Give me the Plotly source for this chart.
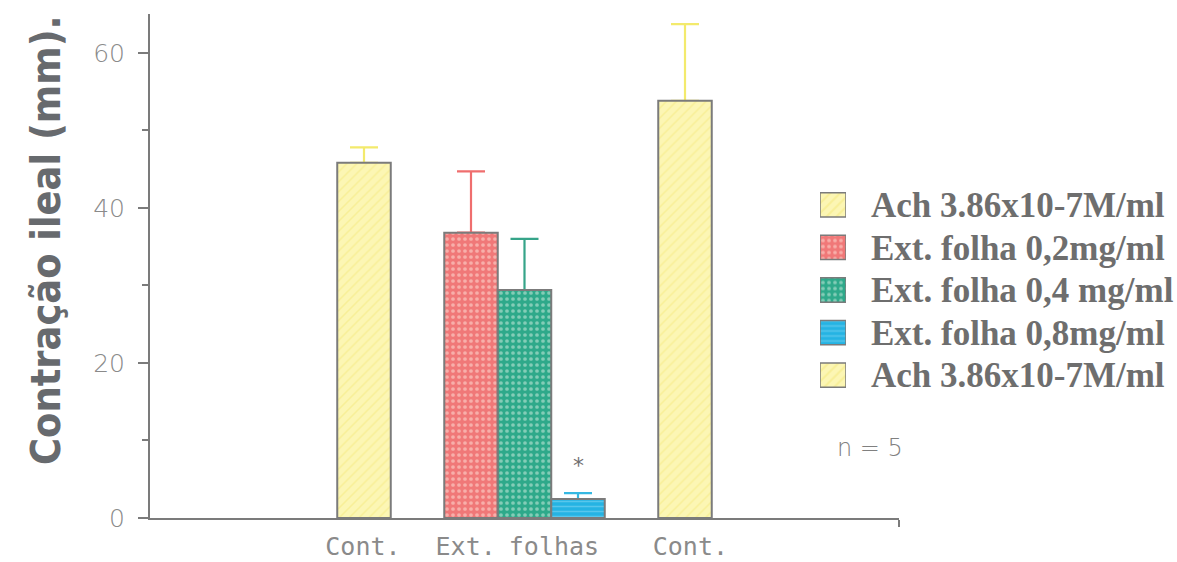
import plotly.graph_objects as go

# ---- data -------------------------------------------------------------
series_names = [
    "Ach 3.86x10-7M/ml",
    "Ext. folha 0,2mg/ml",
    "Ext. folha 0,4 mg/ml",
    "Ext. folha 0,8mg/ml",
    "Ach 3.86x10-7M/ml",
]
bar_pos = [4, 6, 7, 8, 10]
means = [45.8, 36.8, 29.4, 2.45, 53.8]
sem = [2.0, 7.9, 6.6, 0.75, 9.9]

group_tick_pos = [3.98, 5.9, 7.55, 10.1]
group_tick_text = ["Cont.", "Ext.", "folhas", "Cont."]

y_ticks = [0, 20, 40, 60]
y_title = "Contração ileal (mm)."
significant = [False, False, False, True, False]
n_text = "n = 5"

# ---- geometry of the plotting area (pixels) ----------------------------
W, H = 1177, 562
L, R, T, B = 150, 278, 14, 44
plot_w = W - L - R
plot_h = H - T - B


def px_x(px):
    return (px - L) / plot_w


def px_y(py):
    return (H - B - py) / plot_h


# ---- styles -----------------------------------------------------------
fills = [
    dict(shape="/", bgcolor="#fcf6b4", fgcolor="#f3e77a", size=7, solidity=0.22),
    dict(shape=".", bgcolor="#f07878", fgcolor="#fde6dc", size=6, solidity=0.3),
    dict(shape=".", bgcolor="#2ea98a", fgcolor="#d9f0e3", size=6, solidity=0.3),
    dict(shape="-", bgcolor="#25b3e3", fgcolor="#8cdaf3", size=5, solidity=0.3),
    dict(shape="/", bgcolor="#fcf6b4", fgcolor="#f3e77a", size=7, solidity=0.22),
]
err_colors = ["#f3ea6c", "#ef6e6e", "#36a489", "#36b8e2", "#f3ea6c"]
edge = "#7b7b7b"
gray_text = "#8a8a8a"

fig = go.Figure()

# error bars sit underneath their bars so only the upper whisker shows
for i in range(len(means)):
    fig.add_trace(go.Bar(
        x=[bar_pos[i]], y=[means[i]], width=1,
        marker=dict(color="rgba(0,0,0,0)", line=dict(width=0)),
        error_y=dict(type="data", array=[sem[i]], arrayminus=[0], symmetric=False,
                     color=err_colors[i], thickness=2.2, width=14),
        showlegend=False, hoverinfo="skip",
    ))

for i in range(len(means)):
    fig.add_trace(go.Bar(
        x=[bar_pos[i]], y=[means[i]], width=1, name=series_names[i],
        marker=dict(pattern=fills[i], line=dict(color=edge, width=2)),
        showlegend=False,
    ))

# legend swatches drawn as bars on their own small axes
fig.add_trace(go.Bar(
    x=[1] * len(series_names), y=list(range(len(series_names))), orientation="h",
    width=0.57, xaxis="x2", yaxis="y2",
    marker=dict(pattern=dict(
        shape=[f["shape"] for f in fills],
        bgcolor=[f["bgcolor"] for f in fills],
        fgcolor=[f["fgcolor"] for f in fills],
        size=[f["size"] for f in fills],
        solidity=0.3,
    ), line=dict(color=edge, width=1.5)),
    showlegend=False, hoverinfo="skip",
))

# significance marker
for i, s in enumerate(significant):
    if s:
        fig.add_annotation(x=bar_pos[i], y=means[i] + sem[i], text="*", showarrow=False,
                           yanchor="bottom", yshift=13,
                           font=dict(family="DejaVu Sans", size=22, color="#707070"))

fig.add_annotation(x=px_x(835), y=px_y(448), xref="paper", yref="paper", text=n_text,
                   showarrow=False, xanchor="left", yanchor="middle",
                   font=dict(family="DejaVu Sans", size=24, color="#808080", weight=300))

# vertical axis title
fig.add_annotation(x=px_x(46), y=px_y(240), xref="paper", yref="paper", text=y_title,
                   textangle=-90, showarrow=False, xanchor="center", yanchor="middle",
                   font=dict(family="DejaVu Sans Condensed", size=41, color="#676a6e",
                             weight="bold"))

fig.update_layout(
    width=W, height=H,
    margin=dict(l=L, r=R, t=T, b=B),
    paper_bgcolor="white", plot_bgcolor="white",
    barmode="overlay",
    xaxis=dict(
        range=[0, 14], domain=[0, 1], automargin=False,
        tickvals=group_tick_pos, ticktext=group_tick_text, ticks="",
        ticklabelstandoff=5,
        tickfont=dict(family="DejaVu Sans Mono", size=25, color=gray_text),
        showline=True, linecolor=edge, linewidth=2,
        showgrid=False, zeroline=False,
        minor=dict(tickvals=[14], ticks="outside", ticklen=7, tickcolor=edge, tickwidth=2),
    ),
    yaxis=dict(
        range=[0, 65], domain=[0, 1], automargin=False,
        tickvals=y_ticks, ticks="outside", ticklen=10, tickwidth=2, tickcolor=edge,
        ticklabelstandoff=8,
        tickfont=dict(family="DejaVu Sans", size=25, color=gray_text, weight=300),
        showline=True, linecolor=edge, linewidth=2,
        showgrid=False, zeroline=False,
        minor=dict(dtick=10, ticks="outside", ticklen=6, tickcolor=edge, tickwidth=2),
    ),
    xaxis2=dict(domain=[px_x(820), px_x(846)], range=[0, 1],
                anchor="y2", visible=False),
    yaxis2=dict(domain=[px_y(396.5), px_y(183.5)], range=[4.5, -0.5],
                anchor="x2", side="right", automargin=False,
                tickvals=list(range(len(series_names))), ticktext=series_names,
                ticks="", ticklabelstandoff=24, showline=False, showgrid=False,
                zeroline=False,
                tickfont=dict(family="Liberation Serif", size=35, color="#6e6e6e",
                              weight="bold")),
)

fig.write_html("out.html")
